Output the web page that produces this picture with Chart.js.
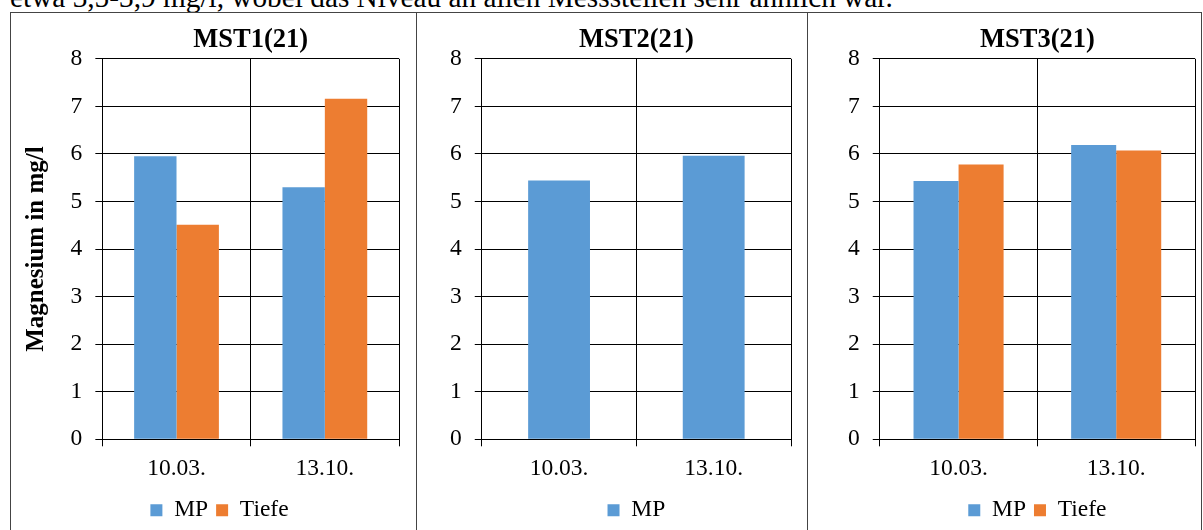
<!DOCTYPE html>
<html>
<head>
<meta charset="utf-8">
<script src="https://cdn.jsdelivr.net/npm/chart.js@4.4.0/dist/chart.umd.min.js"></script>
<style>
  body { margin: 0; width: 1203px; height: 530px; overflow: hidden; background: #fff; position: relative; font-family: "Liberation Serif", serif; }
  .intro { position: absolute; left: 10px; top: -17px; font-size: 29.3px; line-height: 29.5px; white-space: nowrap; color: #000; }
  .frame { position: absolute; left: 10px; top: 12px; width: 1190px; height: 530px; border: 1px solid #444; border-bottom: none; }
  .divider { position: absolute; top: 12px; width: 1px; height: 520px; background: #444; }
  .panel { position: absolute; top: 13px; height: 521px; }
</style>
</head>
<body>
<div class="intro">etwa 3,5-3,9 mg/l, wobei das Niveau an allen Messstellen sehr ähnlich war.</div>
<div class="frame"></div>
<div class="divider" style="left:416px"></div>
<div class="divider" style="left:807px"></div>

<div class="panel" style="left:11px;width:405px"><canvas id="c1"></canvas></div>
<div class="panel" style="left:417px;width:390px"><canvas id="c2"></canvas></div>
<div class="panel" style="left:808px;width:393px"><canvas id="c3"></canvas></div>

<script>
// daten
const dates = ['10.03.', '13.10.'];
const mst1MP = [5.95, 5.3];
const mst1Tiefe = [4.51, 7.16];
const mst2MP = [5.44, 5.96];
const mst3MP = [5.43, 6.19];
const mst3Tiefe = [5.78, 6.07];
const yMin = 0, yMax = 8, yStep = 1;
const yTitle = 'Magnesium in mg/l';

const blue = '#5B9BD5';
const orange = '#ED7D31';
const serif = '"Liberation Serif", "Times New Roman", serif';

Chart.defaults.font.family = serif;

function bars(label, data, color, n) {
  // Excel gap width 150%
  return {
    label: label,
    data: data,
    backgroundColor: color,
    categoryPercentage: n / (n + 1.5),
    barPercentage: 1
  };
}

function makeChart(id, title, datasets, o) {
  var ctx = document.getElementById(id).getContext('2d');
  return new Chart(ctx, {
    type: 'bar',
    data: { labels: dates, datasets: datasets },
    options: {
      responsive: true,
      maintainAspectRatio: false,
      animation: false,
      layout: { padding: { left: o.padLeft, right: o.padRight, top: 0, bottom: 2 } },
      plugins: {
        title: {
          display: true,
          text: title,
          color: '#000',
          fullSize: false,
          font: { family: serif, size: 26.5, weight: 'bold' },
          padding: { top: 11, bottom: 3 }
        },
        legend: {
          position: 'bottom',
          fullSize: o.legendFull,
          labels: {
            color: '#000',
            boxWidth: 12,
            boxHeight: 12,
            padding: 8,
            font: { family: serif, size: 23.5 }
          }
        },
        tooltip: { enabled: false }
      },
      scales: {
        x: {
          grid: { offset: true, color: '#000', lineWidth: 1, tickLength: 7 },
          border: { color: '#000' },
          ticks: { color: '#000', padding: 8, font: { family: serif, size: 23.5 } }
        },
        y: {
          min: yMin,
          max: yMax,
          grid: { color: '#000', lineWidth: 1, tickLength: 7 },
          border: { color: '#000' },
          ticks: { stepSize: yStep, color: '#000', padding: 13, font: { family: serif, size: 23.5 } },
          title: {
            display: o.yTitle,
            text: yTitle,
            color: '#000',
            font: { family: serif, size: 25, weight: 'bold' },
            padding: { top: -18.9, bottom: 6.5 }
          }
        }
      }
    }
  });
}

makeChart('c1', 'MST1(21)', [bars('MP', mst1MP, blue, 2), bars('Tiefe', mst1Tiefe, orange, 2)],
  { padLeft: 29, padRight: 17, legendFull: true, yTitle: true });
makeChart('c2', 'MST2(21)', [bars('MP', mst2MP, blue, 1)],
  { padLeft: 20, padRight: 16, legendFull: false, yTitle: false });
makeChart('c3', 'MST3(21)', [bars('MP', mst3MP, blue, 2), bars('Tiefe', mst3Tiefe, orange, 2)],
  { padLeft: 27, padRight: 6, legendFull: false, yTitle: false });
</script>
</body>
</html>
